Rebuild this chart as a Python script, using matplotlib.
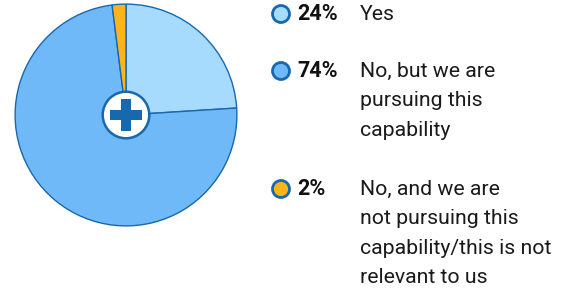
import matplotlib.pyplot as plt
from matplotlib.patches import Circle, Rectangle

# data
values = [24, 74, 2]
colors = ['#a6dbfd', '#70b9f8', '#fbb41a']
pcts = ['24%', '74%', '2%']
labels = [
    ['Yes'],
    ['No, but we are', 'pursuing this', 'capability'],
    ['No, and we are', 'not pursuing this', 'capability/this is not', 'relevant to us'],
]
edge = '#1868ae'

W, H = 573, 298
fig = plt.figure(figsize=(W / 100, H / 100), dpi=100)
plt.rcParams['font.family'] = ['Roboto', 'DejaVu Sans']

# pie axes: center (126,115) px, radius 112 px
cx, cy, r = 126, 115, 112
ax = fig.add_axes([(cx - r) / W, (H - cy - r) / H, 2 * r / W, 2 * r / H])
ax.pie(values, colors=colors, startangle=90, counterclock=False,
       wedgeprops=dict(edgecolor=edge, linewidth=1.0))
ax.set_xlim(-1.01, 1.01)
ax.set_ylim(-1.01, 1.01)
ax.set_aspect('equal')
ax.axis('off')

# center badge
ax.add_patch(Circle((0, 0), 0.21, facecolor='white', edgecolor=edge, linewidth=1.8, zorder=5))
arm, thick = 0.14, 0.047
ax.add_patch(Rectangle((-arm, -thick), 2 * arm, 2 * thick, facecolor=edge, zorder=6))
ax.add_patch(Rectangle((-thick, -arm), 2 * thick, 2 * arm, facecolor=edge, zorder=6))

# legend
lax = fig.add_axes([0, 0, 1, 1])
lax.set_xlim(0, W)
lax.set_ylim(H, 0)
lax.axis('off')
row_y = [14, 71, 189]
line_h = 29.5
for i in range(len(values)):
    y = row_y[i]
    lax.add_patch(Circle((281, y), 8.5, facecolor=colors[i], edgecolor=edge, linewidth=2))
    lax.text(297, y, pcts[i], fontsize=15.5, fontweight='bold', color='#111111',
             va='center', ha='left')
    for j, line in enumerate(labels[i]):
        lax.text(360, y + j * line_h, line, fontsize=15.3, color='#1a1a1a',
                 va='center', ha='left')

fig.savefig('out.png', dpi=100)
